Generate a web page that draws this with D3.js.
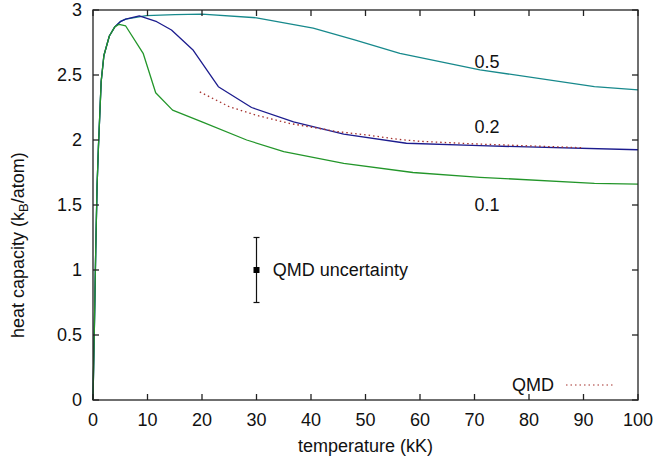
<!DOCTYPE html>
<html>
<head>
<meta charset="utf-8">
<script src="https://cdn.jsdelivr.net/npm/d3@7"></script>
<style>
  html, body { margin: 0; padding: 0; background: #fff; }
  svg text { font-family: "Liberation Sans", Arial, Helvetica, sans-serif; fill: #111; }
</style>
</head>
<body>
<svg id="chart" width="657" height="463"></svg>
<script>
// Heat capacity per atom vs temperature for three densities, plus the QMD reference curve
const tempA = [0, 0.25, 0.5, 0.75, 1, 1.5, 2, 3, 4, 5, 6, 8.5, 11.7, 14.4, 18.4, 23, 29.1, 36.8, 46, 57.5, 71, 100];
const cvA   = [0, 0.55, 1.15, 1.65, 1.95, 2.45, 2.65, 2.8, 2.87, 2.91, 2.93, 2.955, 2.91, 2.846, 2.69, 2.41, 2.25, 2.14, 2.045, 1.975, 1.956, 1.925]; // 0.2

const tempB = [0, 0.25, 0.5, 0.75, 1, 1.5, 2, 3, 4, 5, 6, 9.8, 15, 20, 30, 40.4, 48, 56.3, 71, 92, 100];
const cvB   = [0, 0.55, 1.15, 1.65, 1.95, 2.45, 2.65, 2.8, 2.87, 2.91, 2.93, 2.956, 2.965, 2.968, 2.94, 2.86, 2.77, 2.667, 2.54, 2.41, 2.385]; // 0.5

const tempC = [0, 0.25, 0.5, 0.75, 1, 1.5, 2, 3, 4, 4.8, 6, 9.2, 11.5, 14.6, 20, 28.2, 35, 46, 58.7, 71, 92, 100];
const cvC   = [0, 0.55, 1.15, 1.65, 1.95, 2.45, 2.65, 2.8, 2.87, 2.89, 2.877, 2.667, 2.364, 2.23, 2.14, 2.0, 1.91, 1.82, 1.75, 1.713, 1.667, 1.66]; // 0.1

const tempQMD = [19.6, 25, 30, 36, 45, 50, 56, 60, 70, 80, 90];
const cvQMD   = [2.37, 2.256, 2.19, 2.128, 2.064, 2.04, 2.005, 1.99, 1.97, 1.955, 1.94];

const xTicks = [0, 10, 20, 30, 40, 50, 60, 70, 80, 90, 100];
const yTicks = [0, 0.5, 1, 1.5, 2, 2.5, 3];
const curveLabels = ["0.5", "0.2", "0.1"];
const curveLabelY = [2.6, 2.1, 1.5];
const curveLabelX = 70;

const errTemp = 30, errMean = 1, errHalf = 0.25;

const svg = d3.select("#chart");
const plotL = 93, plotR = 638, plotT = 10, plotB = 400;
const fs = 18;

const x = d3.scaleLinear().domain([0, 100]).range([plotL, plotR]);
const y = d3.scaleLinear().domain([0, 3]).range([plotB, plotT]);

const line = d3.line().x(d => x(d[0])).y(d => y(d[1]));
const zip = (a, b) => a.map((v, i) => [v, b[i]]);

// Series
const series = [
  { t: tempB, c: cvB, color: "#17898c" },
  { t: tempA, c: cvA, color: "#1c1c8e" },
  { t: tempC, c: cvC, color: "#23962a" }
];
series.forEach(s => {
  svg.append("path")
    .datum(zip(s.t, s.c))
    .attr("d", line)
    .attr("fill", "none")
    .attr("stroke", s.color)
    .attr("stroke-width", 1.3)
    .attr("stroke-linejoin", "round");
});

// QMD dotted curve
svg.append("path")
  .datum(zip(tempQMD, cvQMD))
  .attr("d", line)
  .attr("fill", "none")
  .attr("stroke", "#a5302c")
  .attr("stroke-width", 1.3)
  .attr("stroke-dasharray", "1.5,3");

// Frame with inward ticks on all four sides
const tickLen = 6;
const frame = svg.append("g").attr("stroke", "#222").attr("stroke-width", 1.3);
frame.append("rect")
  .attr("x", plotL).attr("y", plotT)
  .attr("width", plotR - plotL).attr("height", plotB - plotT)
  .attr("fill", "none");

xTicks.forEach(t => {
  frame.append("line").attr("x1", x(t)).attr("x2", x(t)).attr("y1", plotB).attr("y2", plotB - tickLen);
  frame.append("line").attr("x1", x(t)).attr("x2", x(t)).attr("y1", plotT).attr("y2", plotT + tickLen);
});
yTicks.forEach(v => {
  frame.append("line").attr("x1", plotL).attr("x2", plotL + tickLen).attr("y1", y(v)).attr("y2", y(v));
  frame.append("line").attr("x1", plotR).attr("x2", plotR - tickLen).attr("y1", y(v)).attr("y2", y(v));
});

// Tick labels
svg.append("g").selectAll("text").data(xTicks).join("text")
  .attr("x", d => x(d)).attr("y", 426)
  .attr("text-anchor", "middle")
  .attr("font-size", fs)
  .text(d => d);

svg.append("g").selectAll("text").data(yTicks).join("text")
  .attr("x", 82).attr("y", d => y(d))
  .attr("text-anchor", "end")
  .attr("dominant-baseline", "central")
  .attr("font-size", fs)
  .text(d => d);

// Axis titles
svg.append("text")
  .attr("x", (plotL + plotR) / 2).attr("y", 452)
  .attr("text-anchor", "middle")
  .attr("font-size", fs)
  .text("temperature (kK)");

const yTitle = svg.append("text")
  .attr("transform", "translate(24,338) rotate(-90)")
  .attr("text-anchor", "start")
  .attr("font-size", fs);
yTitle.append("tspan").text("heat capacity (k");
yTitle.append("tspan").attr("font-size", 13).attr("dy", 4).text("B");
yTitle.append("tspan").attr("dy", -4).text("/atom)");

// Curve labels
svg.append("g").selectAll("text").data(curveLabels).join("text")
  .attr("x", x(curveLabelX)).attr("y", (d, i) => y(curveLabelY[i]))
  .attr("dominant-baseline", "central")
  .attr("font-size", fs)
  .text(d => d);

// Uncertainty bar
const eb = svg.append("g").attr("stroke", "#111").attr("stroke-width", 1.2);
eb.append("line").attr("x1", x(errTemp)).attr("x2", x(errTemp))
  .attr("y1", y(errMean - errHalf)).attr("y2", y(errMean + errHalf));
[errMean - errHalf, errMean + errHalf].forEach(v => {
  eb.append("line").attr("x1", x(errTemp) - 3).attr("x2", x(errTemp) + 3)
    .attr("y1", y(v)).attr("y2", y(v));
});
svg.append("rect")
  .attr("x", x(errTemp) - 3).attr("y", y(errMean) - 3)
  .attr("width", 6).attr("height", 6).attr("fill", "#000");
svg.append("text")
  .attr("x", x(33)).attr("y", y(errMean))
  .attr("dominant-baseline", "central")
  .attr("font-size", fs)
  .text("QMD uncertainty");

// Legend
svg.append("text")
  .attr("x", 554).attr("y", 385)
  .attr("text-anchor", "end")
  .attr("dominant-baseline", "central")
  .attr("font-size", fs)
  .text("QMD");
svg.append("line")
  .attr("x1", 566).attr("x2", 613).attr("y1", 385).attr("y2", 385)
  .attr("stroke", "#a5302c").attr("stroke-width", 1.2)
  .attr("stroke-dasharray", "1.5,3");
</script>
</body>
</html>
